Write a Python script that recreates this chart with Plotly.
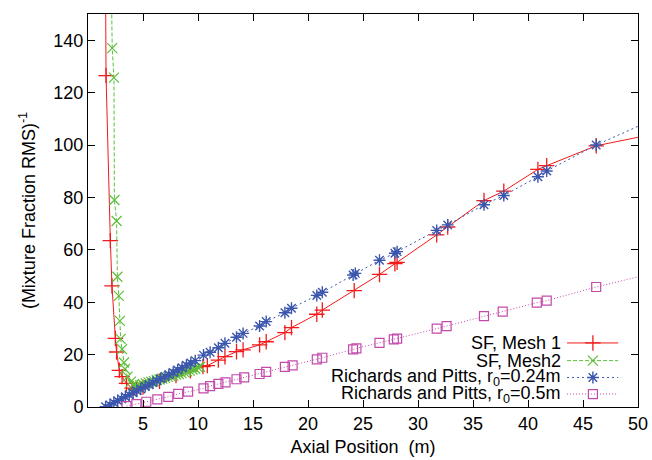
import plotly.graph_objects as go

# ---- data ----
mesh1_x = [1.58, 1.64, 2.03, 2.18, 2.49, 2.6, 2.85, 3.1, 3.5, 4.0, 4.4, 5.0, 6.5, 8.0, 9.3,
           10.45, 10.85, 11.85, 12.45, 13.5, 14.1, 15.6, 16.2, 17.9, 18.5, 20.8, 21.3,
           24.2, 26.5, 27.9, 28.1, 31.7, 32.7, 36.0, 37.8, 40.9, 41.7, 46.2, 51.0]
mesh1_y = [175, 126.5, 63.5, 46.2, 26.2, 21.0, 14.0, 11.6, 9.0, 7.2, 6.8, 7.6, 9.8, 12.0, 13.8,
           15.4, 15.8, 17.9, 19.2, 21.1, 21.8, 23.7, 24.9, 28.4, 30.3, 35.4, 37.0,
           44.4, 50.6, 54.7, 55.2, 65.7, 68.7, 78.8, 82.4, 90.7, 92.1, 99.7, 103.8]

mesh2_x = [2.08, 2.2, 2.36, 2.4, 2.6, 2.67, 2.8, 2.9, 2.97, 3.1, 3.27, 3.36, 3.6, 3.9,
           4.1, 4.3, 4.5, 4.75, 5.0, 5.25, 5.5, 5.75, 6.0, 6.25, 6.5, 6.75, 7.0, 7.25,
           7.5, 7.75, 8.0, 8.25, 8.5, 8.75, 9.0, 9.25, 9.5, 9.75, 10.0, 10.2]
mesh2_y = [175, 137.0, 125.7, 79.0, 71.0, 49.7, 42.4, 32.9, 26.0, 22.1, 17.0, 14.5, 11.6, 9.7,
           8.4, 7.9, 8.0, 8.3, 8.7, 9.0, 9.4, 9.6, 9.9, 10.3, 10.5, 10.8, 11.1, 11.5,
           11.7, 12.0, 12.4, 12.6, 12.9, 13.3, 13.6, 13.9, 14.3, 14.6, 15.0, 15.3]

rp024_x = [1.6, 2.0, 2.35, 2.7, 3.05, 3.4, 3.75, 4.1, 4.45, 4.8, 5.2, 5.55, 5.9, 6.25, 6.6,
           7.0, 7.35, 7.75, 8.15, 8.55, 8.95, 9.35, 9.75, 10.5, 11.1, 11.85, 12.45,
           13.5, 14.1, 15.6, 16.2, 17.9, 18.5, 20.8, 21.3, 24.1, 24.3, 26.5, 27.9,
           28.1, 31.7, 32.7, 36.0, 37.8, 40.9, 41.7, 46.2, 51.0]
rp024_y = [0.1, 0.8, 1.6, 2.4, 3.1, 3.9, 4.7, 5.4, 6.2, 6.9, 7.8, 8.5, 9.3, 10.0, 10.8,
           11.6, 12.3, 13.2, 14.1, 15.0, 15.9, 16.8, 17.7, 19.8, 20.9, 22.6, 24.3,
           26.6, 28.1, 30.9, 32.6, 36.0, 37.7, 42.6, 43.8, 50.4, 51.0, 56.0, 58.7,
           59.3, 67.4, 69.5, 77.2, 80.7, 87.9, 90.1, 100.0, 109.0]

rp05_x = [3.5, 4.4, 5.3, 6.3, 7.3, 8.2, 9.1, 10.5, 11.1, 11.85, 12.5, 13.5, 14.2, 15.6,
          16.2, 17.9, 18.6, 20.8, 21.3, 24.1, 24.4, 26.5, 27.8, 28.1, 31.7, 32.6,
          36.0, 37.7, 40.8, 41.7, 46.2, 51.0]
rp05_y = [0.3, 1.1, 2.0, 2.9, 3.9, 5.0, 5.9, 7.1, 8.0, 8.8, 9.4, 10.6, 11.3, 12.6,
          13.4, 15.3, 15.9, 18.2, 18.8, 22.0, 22.4, 24.5, 25.8, 26.1, 29.9, 30.9,
          34.7, 36.4, 39.8, 40.6, 45.8, 50.7]

x_ticks = [5, 10, 15, 20, 25, 30, 35, 40, 45, 50]
y_ticks = [0, 20, 40, 60, 80, 100, 120, 140]

series_names = ["SF, Mesh 1", "SF, Mesh2",
                "Richards and Pitts, r<sub>0</sub>=0.24m",
                "Richards and Pitts, r<sub>0</sub>=0.5m"]

# ---- styles ----
RED = "#f21a1a"
GREEN = "#5cbf3a"
BLUE = "#3a56ad"
MAG = "#c24aaa"
FONT = "Liberation Sans, Arial, Helvetica, sans-serif"
FS = 18

styles = [
    dict(color=RED, dash="solid", symbol="cross-thin", size=11, mlw=1.3),
    dict(color=GREEN, dash="4px,2px", symbol="x-thin", size=10, mlw=1.2),
    dict(color=BLUE, dash="2px,3px", symbol="asterisk", size=10, mlw=1.4),
    dict(color=MAG, dash="1px,2px", symbol="square-open", size=9, mlw=1.2),
]
data = [(mesh1_x, mesh1_y), (mesh2_x, mesh2_y), (rp024_x, rp024_y), (rp05_x, rp05_y)]

fig = go.Figure()
for (xs, ys), st, name in zip(data, styles, series_names):
    fig.add_trace(go.Scatter(
        x=xs, y=ys, mode="lines+markers", name=name, showlegend=False,
        line=dict(color=st["color"], width=1, dash=st["dash"]),
        marker=dict(symbol=st["symbol"], size=st["size"], color=st["color"],
                    line=dict(color=st["color"], width=st["mlw"])),
        cliponaxis=True,
    ))

# ---- gnuplot-style key: text right-aligned, sample to the right ----
key_rows = [0.163, 0.118, 0.075, 0.033]
for row, st, name in zip(key_rows, styles, series_names):
    fig.add_trace(go.Scatter(
        x=[0.871, 0.964], y=[row, row], xaxis="x2", yaxis="y2", mode="lines",
        showlegend=False, hoverinfo="skip",
        line=dict(color=st["color"], width=1, dash=st["dash"])))
    fig.add_trace(go.Scatter(
        x=[0.918], y=[row], xaxis="x2", yaxis="y2", mode="markers",
        showlegend=False, hoverinfo="skip",
        marker=dict(symbol=st["symbol"], size=st["size"], color=st["color"],
                    line=dict(color=st["color"], width=st["mlw"]))))
    fig.add_annotation(x=0.862, y=row, xref="x2", yref="y2", text=name,
                       showarrow=False, xanchor="right", yanchor="middle",
                       borderpad=0,
                       font=dict(family=FONT, size=FS, color="black"))

axis_common = dict(showgrid=False, zeroline=False, showline=True, linecolor="black",
                   linewidth=1, mirror="ticks", ticks="inside", ticklen=7,
                   tickcolor="black", tickwidth=1, automargin=False,
                   tickfont=dict(family=FONT, size=FS, color="black"))

fig.update_layout(
    width=652, height=460, autosize=False,
    margin=dict(l=88, r=14, t=14, b=53, autoexpand=False),
    paper_bgcolor="white", plot_bgcolor="white",
    xaxis=dict(range=[0, 50], tickvals=x_ticks, **axis_common,
               title=dict(text="Axial Position\u00a0\u00a0(m)", standoff=7,
                          font=dict(family=FONT, size=FS, color="black"))),
    yaxis=dict(range=[0, 150], tickvals=y_ticks, **axis_common,
               title=dict(text="(Mixture Fraction RMS)<sup>-1</sup>", standoff=13,
                          font=dict(family=FONT, size=FS, color="black"))),
    xaxis2=dict(range=[0, 1], overlaying="x", anchor="y2", visible=False,
                fixedrange=True, automargin=False),
    yaxis2=dict(range=[0, 1], overlaying="y", anchor="x2", visible=False,
                fixedrange=True, automargin=False),
    showlegend=False,
)

fig.write_html("out.html")
